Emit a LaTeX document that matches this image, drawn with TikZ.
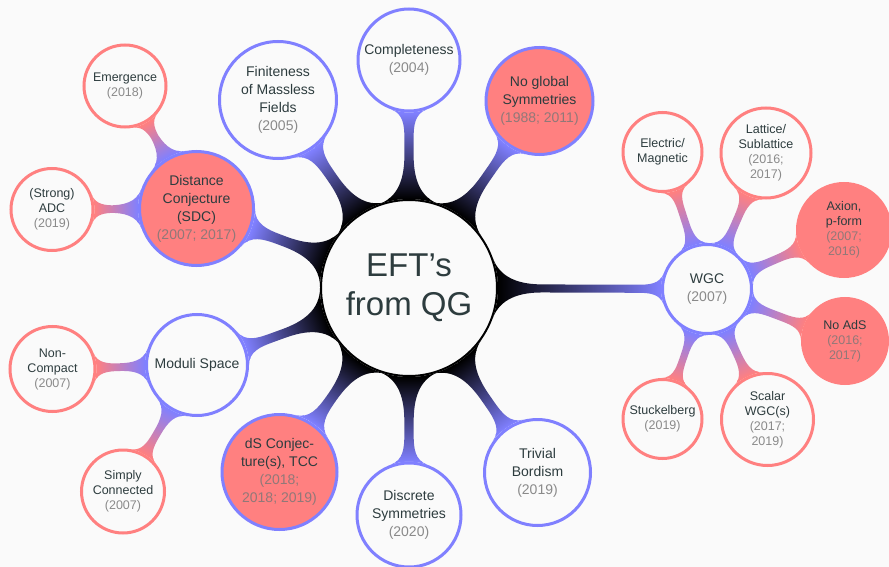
\documentclass[tikz,border=0pt]{standalone}
\usepackage{fontspec}
\setmainfont{Liberation Sans}
\usetikzlibrary{mindmap}

\definecolor{paper}{RGB}{250,250,250}
\definecolor{ink}{RGB}{45,60,62}
\definecolor{yearink}{RGB}{138,138,138}
\definecolor{yearhot}{RGB}{145,120,120}
\definecolor{bluec}{RGB}{128,128,255}
\definecolor{redc}{RGB}{255,128,128}

\pgfdeclarelayer{back}
\pgfdeclarelayer{bars}
\pgfsetlayers{back,bars,main}

\newcommand\yr[1]{\textcolor{yearink}{#1}}
\newcommand\yh[1]{\textcolor{yearhot}{#1}}

\tikzset{
  rootc/.style={circle, draw=black, line width=2pt, fill=paper, inner sep=0pt,
    minimum size=176pt, text=ink, align=center, font=\fontsize{33}{39}\selectfont},
  topic/.style={circle, draw=bluec, line width=3pt, fill=paper, inner sep=0pt,
    text=ink, align=center, font=\fontsize{14}{18}\selectfont},
  hottopic/.style={topic, fill=redc},
  sub/.style={circle, draw=redc, line width=3pt, fill=paper, inner sep=0pt,
    text=ink, align=center, font=\fontsize{12.5}{15}\selectfont},
  hotsub/.style={sub, fill=redc},
  trunk/.style={line width=10pt},
  twig/.style={line width=7.5pt},
}

\begin{document}
\begin{tikzpicture}[x=1pt, y=-1pt]
  \useasboundingbox (0,0) rectangle (889,567);
  \begin{pgfonlayer}{back}
    \fill[paper] (0,0) rectangle (889,567);
  \end{pgfonlayer}

  % central concept
  \node[rootc] (root) at (409,288) {EFT’s\\from QG};

  % first ring
  \node[topic, minimum size=102pt] (compl) at (409,60) {Completeness\\\yr{(2004)}};
  \node[hottopic, minimum size=107pt] (noglob) at (539.5,101) {No global\\Symmetries\\\yh{(1988; 2011)}};
  \node[topic, minimum size=117pt] (finite) at (278,100) {Finiteness\\of Massless\\Fields\\\yr{(2005)}};
  \node[hottopic, minimum size=114pt] (sdc) at (196.5,208.5) {Distance\\Conjecture\\(SDC)\\\yh{(2007; 2017)}};
  \node[topic, minimum size=101pt] (moduli) at (197,365) {Moduli Space};
  \node[hottopic, minimum size=115pt] (ds) at (279.5,472) {dS Conjec-\\ture(s), TCC\\\yh{(2018;}\\\yh{2018; 2019)}};
  \node[topic, minimum size=104pt] (discrete) at (409,515) {Discrete\\Symmetries\\\yr{(2020)}};
  \node[topic, minimum size=106pt] (bordism) at (537.5,472.5) {Trivial\\Bordism\\\yr{(2019)}};
  \node[topic, minimum size=89pt] (wgc) at (707,289) {WGC\\\yr{(2007)}};

  % second ring
  \node[sub, minimum size=82pt] (emerg) at (125,86) {Emergence\\\yr{(2018)}};
  \node[sub, minimum size=82pt] (adc) at (52,209.5) {(Strong)\\ADC\\\yr{(2019)}};
  \node[sub, minimum size=85pt] (noncomp) at (52.5,369) {Non-\\Compact\\\yr{(2007)}};
  \node[sub, minimum size=83pt] (simply) at (123,491.5) {Simply\\Connected\\\yr{(2007)}};
  \node[sub, minimum size=79pt] (elmag) at (662.5,152) {Electric/\\Magnetic};
  \node[sub, minimum size=90pt] (lattice) at (766,153) {Lattice/\\Sublattice\\\yr{(2016;}\\\yr{2017)}};
  \node[hotsub, minimum size=93pt] (axion) at (844,230) {Axion,\\p-form\\\yh{(2007;}\\\yh{2016)}};
  \node[hotsub, minimum size=85pt] (noads) at (845,341) {No AdS\\\yh{(2016;}\\\yh{2017)}};
  \node[sub, minimum size=79pt] (stuck) at (662.5,419) {Stuckelberg\\\yr{(2019)}};
  \node[sub, minimum size=92pt] (scalar) at (767.5,419.5) {Scalar\\WGC(s)\\\yr{(2017;}\\\yr{2019)}};

  % connection bars
  \begin{pgfonlayer}{bars}
    \foreach \t in {compl,noglob,finite,sdc,moduli,ds,discrete,bordism,wgc}
      \path[trunk] (root) to[circle connection bar switch color=from (black) to (bluec)] (\t);
    \foreach \t in {emerg,adc}
      \path[twig] (sdc) to[circle connection bar switch color=from (bluec) to (redc)] (\t);
    \foreach \t in {noncomp,simply}
      \path[twig] (moduli) to[circle connection bar switch color=from (bluec) to (redc)] (\t);
    \foreach \t in {elmag,lattice,axion,noads,stuck,scalar}
      \path[twig] (wgc) to[circle connection bar switch color=from (bluec) to (redc)] (\t);
  \end{pgfonlayer}
\end{tikzpicture}
\end{document}
